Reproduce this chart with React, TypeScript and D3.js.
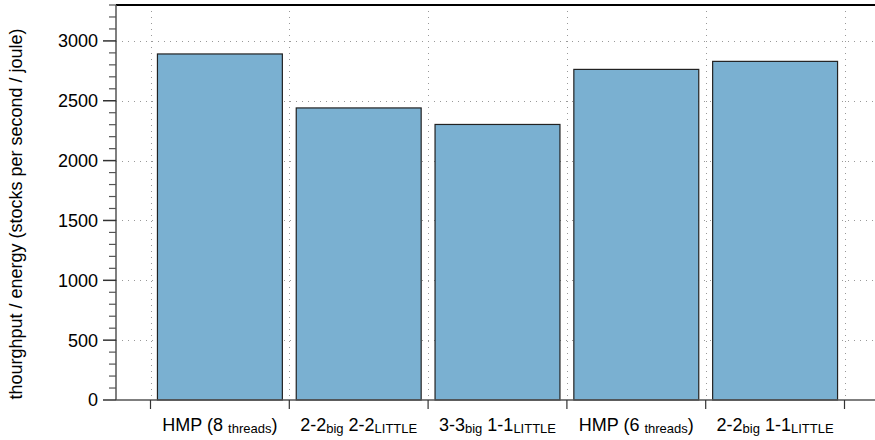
import * as d3 from "d3";
import { useEffect, useRef } from "react";

const categories = ["hmp8", "22b22l", "33b11l", "hmp6", "22b11l"];
const labelMain = [
	["HMP (8 ", ")"],
	["2-2", " 2-2"],
	["3-3", " 1-1"],
	["HMP (6 ", ")"],
	["2-2", " 1-1"],
];
const labelSub = [
	["threads", ""],
	["big", "LITTLE"],
	["big", "LITTLE"],
	["threads", ""],
	["big", "LITTLE"],
];
const values = [2891, 2440, 2302, 2762, 2829];
const majorTicks = [0, 500, 1000, 1500, 2000, 2500, 3000];

function App() {
	const ref = useRef<SVGSVGElement>(null);
	const width = 875;
	const height = 440;
	const font = "'Liberation Sans', Arial, Helvetica, sans-serif";

	useEffect(() => {
		const svg = d3.select(ref.current);
		svg.selectAll("*").remove();
		const left = 116;
		const top = 5;
		const bottom = 400;

		const y = d3.scaleLinear().domain([0, 3300]).range([bottom, top]);
		const x = d3
			.scaleBand<string>()
			.domain(categories)
			.range([150.5, 844.5])
			.paddingInner(0.1)
			.paddingOuter(0.05);
		const step = x.step();
		const bounds = d3.range(categories.length + 1).map((i) => 150.5 + i * step);

		// grid
		const grid = svg.append("g");
		grid.selectAll("line.h")
			.data(majorTicks.filter((t) => t > 0))
			.enter()
			.append("line")
			.attr("x1", left)
			.attr("x2", width)
			.attr("y1", (d) => Math.round(y(d)) + 0.5)
			.attr("y2", (d) => Math.round(y(d)) + 0.5)
			.attr("stroke", "#999")
			.attr("stroke-dasharray", "1,5");
		grid.selectAll("line.v")
			.data(bounds)
			.enter()
			.append("line")
			.attr("x1", (d) => Math.round(d) + 0.5)
			.attr("x2", (d) => Math.round(d) + 0.5)
			.attr("y1", top)
			.attr("y2", bottom)
			.attr("stroke", "#999")
			.attr("stroke-dasharray", "1,5");

		// bars
		svg.append("g")
			.selectAll("rect")
			.data(values)
			.enter()
			.append("rect")
			.attr("x", (_, i) => x(categories[i])!)
			.attr("width", x.bandwidth())
			.attr("y", (d) => y(d))
			.attr("height", (d) => bottom - y(d))
			.attr("fill", "#7ab0d1")
			.attr("stroke", "#222")
			.attr("stroke-width", 1.2);

		// frame
		svg.append("line")
			.attr("x1", left)
			.attr("x2", width)
			.attr("y1", top)
			.attr("y2", top)
			.attr("stroke", "#000")
			.attr("stroke-width", 2);
		svg.append("line")
			.attr("x1", left)
			.attr("x2", width)
			.attr("y1", bottom)
			.attr("y2", bottom)
			.attr("stroke", "#555")
			.attr("stroke-width", 1.5);
		svg.append("line")
			.attr("x1", left)
			.attr("x2", left)
			.attr("y1", top)
			.attr("y2", bottom)
			.attr("stroke", "#555")
			.attr("stroke-width", 1.5);

		// y axis ticks
		const minor = d3.range(0, 3301, 100).filter((t) => t % 500 !== 0);
		svg.append("g")
			.selectAll("line")
			.data(minor)
			.enter()
			.append("line")
			.attr("x1", 109)
			.attr("x2", left)
			.attr("y1", (d) => y(d))
			.attr("y2", (d) => y(d))
			.attr("stroke", "#555")
			.attr("stroke-width", 1.2);
		svg.append("g")
			.selectAll("line")
			.data(majorTicks)
			.enter()
			.append("line")
			.attr("x1", 103)
			.attr("x2", left)
			.attr("y1", (d) => y(d))
			.attr("y2", (d) => y(d))
			.attr("stroke", "#333")
			.attr("stroke-width", 1.5);
		svg.append("g")
			.selectAll("text")
			.data(majorTicks)
			.enter()
			.append("text")
			.attr("x", 98)
			.attr("y", (d) => y(d))
			.attr("dy", "0.36em")
			.attr("text-anchor", "end")
			.style("font-family", font)
			.style("font-size", "18px")
			.text((d) => d);

		// x axis ticks
		svg.append("g")
			.selectAll("line")
			.data(bounds)
			.enter()
			.append("line")
			.attr("x1", (d) => d)
			.attr("x2", (d) => d)
			.attr("y1", bottom)
			.attr("y2", 409)
			.attr("stroke", "#333")
			.attr("stroke-width", 1.2);

		// x labels with subscripts
		const labels = svg.append("g");
		categories.forEach((c, i) => {
			const t = labels
				.append("text")
				.attr("x", x(c)! + x.bandwidth() / 2)
				.attr("y", 431)
				.attr("text-anchor", "middle")
				.style("font-family", font)
				.style("font-size", "18px");
			t.append("tspan").text(labelMain[i][0]);
			t.append("tspan")
				.attr("dy", 2)
				.style("font-size", "13px")
				.text(labelSub[i][0]);
			t.append("tspan").attr("dy", -2).text(labelMain[i][1]);
			if (labelSub[i][1]) {
				t.append("tspan")
					.attr("dy", 2)
					.style("font-size", "13px")
					.text(labelSub[i][1]);
			}
		});

		// y axis title
		svg.append("text")
			.attr("transform", "translate(22,214) rotate(-90)")
			.attr("text-anchor", "middle")
			.style("font-family", font)
			.style("font-size", "18px")
			.text("thourghput / energy (stocks per second / joule)");
	}, []);

	return (
		<svg
			ref={ref}
			width={width}
			height={height}
			style={{ position: "absolute", left: 0, top: 0, background: "#fff" }}
		></svg>
	);
}

export default App;
